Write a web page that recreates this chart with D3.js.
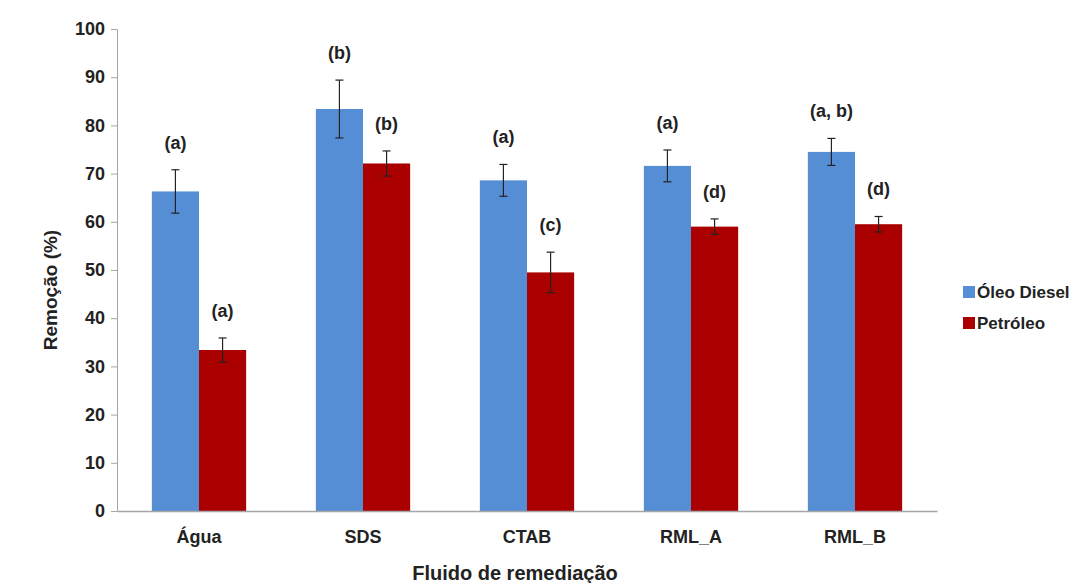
<!DOCTYPE html>
<html>
<head>
<style>
  body {
    margin: 0;
    background-color: #fff;
  }
  text {
    font-family: "Liberation Sans", Arial, sans-serif;
    font-weight: bold;
    fill: #222;
  }
</style>
<script src="https://d3js.org/d3.v7.min.js"></script>
</head>
<body>
<script>
// categories and series
const categories = ['Água', 'SDS', 'CTAB', 'RML_A', 'RML_B'];
const seriesNames = ['Óleo Diesel', 'Petróleo'];
const dieselValues = [66.3, 83.4, 68.6, 71.6, 74.5];
const dieselErrors = [4.5, 6.0, 3.3, 3.3, 2.8];
const dieselLetters = ['(a)', '(b)', '(a)', '(a)', '(a, b)'];
const petroleoValues = [33.4, 72.1, 49.5, 59.0, 59.5];
const petroleoErrors = [2.5, 2.6, 4.2, 1.6, 1.6];
const petroleoLetters = ['(a)', '(b)', '(c)', '(d)', '(d)'];
const yTicks = [0, 10, 20, 30, 40, 50, 60, 70, 80, 90, 100];
const colors = ['#558ed5', '#aa0000'];

const width = 1075;
const height = 583;
const margin = { top: 29, left: 117, bottom: 72, right: 138 };

const svg = d3.select('body')
  .append('svg')
  .attr('width', width)
  .attr('height', height);

const x = d3.scaleBand()
  .domain(categories)
  .range([margin.left, width - margin.right])
  .paddingInner(0.425)
  .paddingOuter(0.2125);

const x1 = d3.scaleBand()
  .domain(seriesNames)
  .range([0, x.bandwidth()]);

const y = d3.scaleLinear()
  .domain([0, 100])
  .range([height - margin.bottom, margin.top]);

const styleTickText = sel => sel
  .attr('font-size', 18)
  .attr('font-family', '"Liberation Sans", Arial, sans-serif')
  .attr('font-weight', 'bold')
  .attr('fill', '#222');

// y axis
const yAxis = svg.append('g')
  .attr('transform', `translate(${margin.left},0)`)
  .call(d3.axisLeft(y).tickValues(yTicks).tickSize(6).tickPadding(6));
yAxis.select('.domain').attr('stroke', '#a6a6a6');
yAxis.selectAll('.tick line').attr('stroke', '#a6a6a6');
yAxis.selectAll('.tick text').call(styleTickText);

// bars
const rows = categories.map((c, i) => ({
  category: c,
  values: [
    { series: seriesNames[0], value: dieselValues[i], err: dieselErrors[i], letter: dieselLetters[i] },
    { series: seriesNames[1], value: petroleoValues[i], err: petroleoErrors[i], letter: petroleoLetters[i] },
  ],
}));

const groups = svg.selectAll('g.cat')
  .data(rows)
  .join('g')
  .attr('class', 'cat')
  .attr('transform', d => `translate(${x(d.category)},0)`);

groups.selectAll('rect')
  .data(d => d.values)
  .join('rect')
  .attr('x', d => x1(d.series))
  .attr('y', d => y(d.value))
  .attr('width', x1.bandwidth())
  .attr('height', d => y(0) - y(d.value))
  .attr('fill', (d, i) => colors[i]);

// error bars
const cx = d => x1(d.series) + x1.bandwidth() / 2;
const errs = groups.selectAll('g.err')
  .data(d => d.values)
  .join('g')
  .attr('class', 'err')
  .attr('stroke', '#222')
  .attr('stroke-width', 1.2);

errs.append('line')
  .attr('x1', cx)
  .attr('x2', cx)
  .attr('y1', d => y(d.value + d.err))
  .attr('y2', d => y(d.value - d.err));
errs.append('line')
  .attr('x1', d => cx(d) - 4)
  .attr('x2', d => cx(d) + 4)
  .attr('y1', d => y(d.value + d.err))
  .attr('y2', d => y(d.value + d.err));
errs.append('line')
  .attr('x1', d => cx(d) - 4)
  .attr('x2', d => cx(d) + 4)
  .attr('y1', d => y(d.value - d.err))
  .attr('y2', d => y(d.value - d.err));

// significance letters
groups.selectAll('text.letter')
  .data(d => d.values)
  .join('text')
  .attr('class', 'letter')
  .attr('x', cx)
  .attr('y', d => y(d.value + d.err) - 21)
  .attr('text-anchor', 'middle')
  .attr('font-size', 18)
  .text(d => d.letter);

// x axis
const xAxis = svg.append('g')
  .attr('transform', `translate(0,${y(0)})`)
  .call(d3.axisBottom(x).tickSize(0).tickPadding(19));
xAxis.select('.domain').attr('stroke', '#a6a6a6').attr('stroke-width', 1.5);
xAxis.selectAll('.tick text').call(styleTickText);

// axis titles
svg.append('text')
  .attr('x', 515)
  .attr('y', 580)
  .attr('text-anchor', 'middle')
  .attr('font-size', 20)
  .text('Fluido de remediação');

svg.append('text')
  .attr('transform', 'translate(57,290) rotate(-90)')
  .attr('text-anchor', 'middle')
  .attr('font-size', 19)
  .text('Remoção (%)');

// legend
const legend = svg.append('g')
  .attr('transform', 'translate(963,292)');
legend.selectAll('rect')
  .data(seriesNames)
  .join('rect')
  .attr('x', 0)
  .attr('y', (d, i) => i * 31 - 6)
  .attr('width', 12)
  .attr('height', 12)
  .attr('fill', (d, i) => colors[i]);
legend.selectAll('text')
  .data(seriesNames)
  .join('text')
  .attr('x', 14)
  .attr('y', (d, i) => i * 31 + 6)
  .attr('font-size', 17)
  .text(d => d);
</script>
</body>
</html>
